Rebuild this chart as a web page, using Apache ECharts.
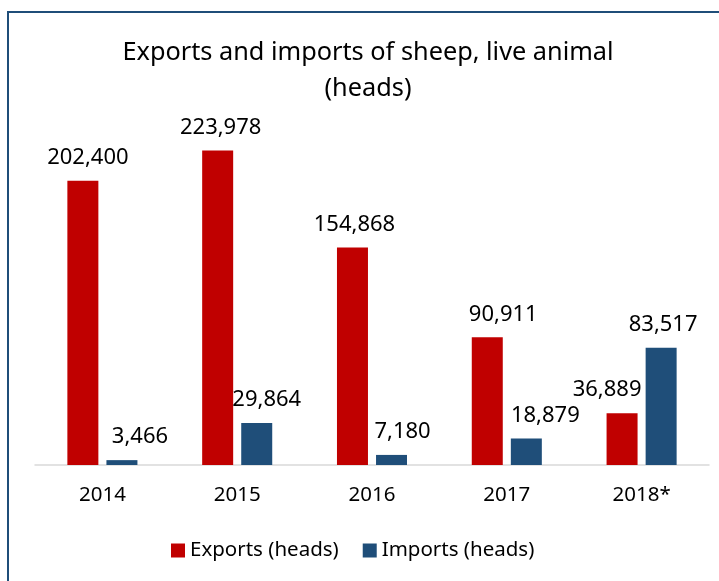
<!DOCTYPE html>
<html>
<head>
<meta charset="utf-8">
<script src="https://cdn.jsdelivr.net/npm/echarts@6/dist/echarts.min.js"></script>
<style>
  html, body { margin: 0; padding: 0; background: #fff; }
  #chart { width: 719px; height: 581px; }
</style>
</head>
<body>
<div id="chart"></div>
<script>
// Years and live-sheep trade volumes (heads)
const years = ['2014', '2015', '2016', '2017', '2018*'];
const exportsHeads = [202400, 223978, 154868, 90911, 36889];
const importsHeads = [3466, 29864, 7180, 18879, 83517];
const seriesNames = ['Exports (heads)', 'Imports (heads)'];

// Horizontal nudges for the value labels so neighbouring labels don't collide
const exportLabelShift = [5, 3, 2, 16, -15];
const importLabelShift = [18, 10, 11, 19, 2];

const FONT = '"Noto Sans", "Open Sans", sans-serif';
const fmt = v => v.toLocaleString('en-US');

function barData(values, shifts) {
  return values.map((v, i) => ({
    value: v,
    label: { offset: [shifts[i], 0] }
  }));
}

const labelStyle = {
  show: true,
  position: 'top',
  distance: 12,
  fontFamily: FONT,
  fontSize: 22,
  color: '#000000',
  formatter: p => fmt(p.value)
};

const chart = echarts.init(document.getElementById('chart'), null, { renderer: 'canvas' });

chart.setOption({
  backgroundColor: '#ffffff',
  animation: false,
  textStyle: { fontFamily: FONT },
  title: {
    text: 'Exports and imports of sheep, live animal\n(heads)',
    left: 363,
    top: 30,
    textAlign: 'center',
    textStyle: {
      fontFamily: FONT,
      fontSize: 25.3,
      fontWeight: 'normal',
      color: '#000000',
      lineHeight: 36
    }
  },
  legend: {
    data: seriesNames,
    bottom: 15,
    left: 166,
    itemWidth: 14,
    itemHeight: 14,
    itemGap: 24,
    icon: 'rect',
    textStyle: { fontFamily: FONT, fontSize: 20.5, color: '#000000' }
  },
  grid: { left: 35, right: 10, top: 114, bottom: 116, containLabel: false },
  xAxis: {
    type: 'category',
    data: years,
    axisLine: { show: true, lineStyle: { color: '#d9d9d9', width: 1.5 } },
    axisTick: { show: false },
    axisLabel: { fontFamily: FONT, fontSize: 20.5, color: '#000000', margin: 20 }
  },
  yAxis: {
    type: 'value',
    min: 0,
    max: 250000,
    show: false,
    splitLine: { show: false }
  },
  series: [
    {
      name: seriesNames[0],
      type: 'bar',
      data: barData(exportsHeads, exportLabelShift),
      barWidth: 31,
      barGap: '26%',
      itemStyle: { color: '#C00000' },
      label: labelStyle
    },
    {
      name: seriesNames[1],
      type: 'bar',
      data: barData(importsHeads, importLabelShift),
      barWidth: 31,
      itemStyle: { color: '#1F4E79' },
      label: labelStyle
    }
  ],
  graphic: [
    {
      type: 'rect',
      shape: { x: 8, y: 12, width: 900, height: 800 },
      style: { fill: 'none', stroke: '#1F4E79', lineWidth: 2 },
      silent: true,
      z: 100
    }
  ]
});
</script>
</body>
</html>
